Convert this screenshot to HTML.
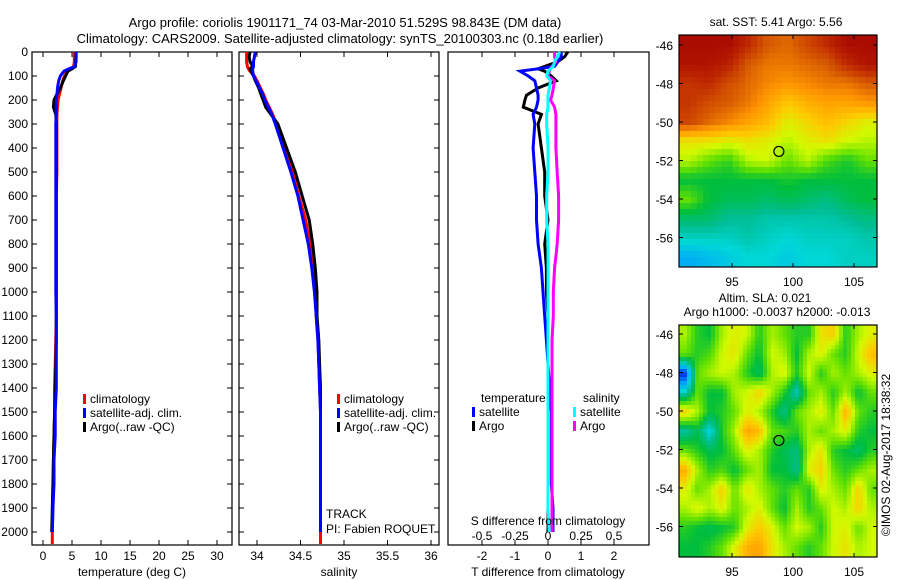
<!DOCTYPE html>
<html><head><meta charset="utf-8"><style>
body{margin:0;background:#fff;}
svg{display:block;font-family:"Liberation Sans",sans-serif;font-size:12px;}
</style></head><body>
<svg id="fig" width="900" height="580" viewBox="0 0 900 580">
<text x="345" y="27" text-anchor="middle" font-size="13">Argo profile: coriolis 1901171_74 03-Mar-2010 51.529S 98.843E (DM data)</text>
<text x="340" y="43" text-anchor="middle" font-size="13">Climatology: CARS2009. Satellite-adjusted climatology: synTS_20100303.nc (0.18d earlier)</text>
<g id="g1"></g>
<g id="g2"></g>
<g id="g3"></g>
<g id="g4"></g>
<g id="g5"></g>
<text transform="translate(890,455) rotate(-90)" text-anchor="middle" font-size="12">©IMOS 02-Aug-2017 18:38:32</text>
</svg>
<script>
const depth=[0,20,40,60,70,80,100,120,150,180,200,230,260,300,400,500,600,700,800,900,1000,1100,1200,1300,1400,1500,1600,1700,1800,1900,2000,2050];
const tClim=[5.4,5.4,5.4,5.3,4.8,4.2,3.7,3.4,3.1,2.8,2.6,2.5,2.4,2.4,2.4,2.4,2.3,2.3,2.3,2.3,2.3,2.3,2.2,2.1,2.0,2.0,1.9,1.8,1.8,1.7,1.6,1.6];
const tSat=[5.7,5.7,5.7,5.5,4.5,3.6,3.0,2.7,2.5,2.4,2.3,2.3,2.3,2.2,2.2,2.2,2.2,2.2,2.2,2.2,2.2,2.3,2.3,2.3,2.3,2.1,2.1,1.9,1.9,1.7,1.6,null];
const tArgo=[5.7,5.7,5.6,5.6,5.0,4.3,3.9,3.5,3.0,2.3,1.9,1.8,2.2,2.3,2.3,2.3,2.3,2.3,2.3,2.3,2.3,2.3,2.3,2.2,2.1,2.0,1.9,1.8,1.7,1.6,1.5,null];
const sClim=[33.88,33.88,33.88,33.89,33.9,33.92,33.97,34.0,34.04,34.08,34.1,34.14,34.18,34.22,34.31,34.41,34.48,34.56,34.61,34.64,34.67,34.68,34.7,34.71,34.72,34.73,34.73,34.73,34.73,34.73,34.73,34.73];
const sSat=[33.98,33.97,33.96,33.96,33.95,33.95,33.96,33.99,34.03,34.07,34.09,34.13,34.17,34.21,34.3,34.39,34.47,34.53,34.59,34.63,34.66,34.68,34.7,34.71,34.72,34.73,34.73,34.73,34.73,34.73,34.73,null];
const sArgo=[33.92,33.91,33.92,33.95,33.92,33.93,33.96,33.98,34.02,34.05,34.07,34.1,34.16,34.24,34.34,34.44,34.52,34.6,34.64,34.67,34.69,34.69,34.71,34.72,34.73,34.73,34.73,34.73,34.73,34.73,34.73,null];
const dTsat=[0.4,0.4,0.3,0.2,-0.3,-0.85,-0.6,-0.4,-0.35,-0.3,-0.3,-0.35,-0.45,-0.4,-0.45,-0.4,-0.35,-0.35,-0.3,-0.2,-0.15,-0.1,-0.05,0,0.05,0.1,0.1,0.1,0.1,0.15,0.15,null];
const dTargo=[0.6,0.5,0.3,-0.1,-0.3,-0.1,0.1,0.25,-0.3,-0.65,-0.7,-0.75,-0.2,-0.3,-0.2,-0.1,-0.1,0,-0.1,-0.05,-0.05,0,0,0,0,0,0,0,0,0,0,null];
const dSsat=[0.09,0.07,0.05,0.04,0.02,0.0,-0.01,0.02,0.01,0.0,0.0,0.0,-0.01,-0.01,0.0,0.0,-0.01,-0.01,0.0,0.0,0.0,0.0,0.0,0.0,0.0,0.0,0.0,0.0,0.0,0.0,0.01,null];
const dSargo=[0.05,0.05,0.06,0.03,0.02,0.01,0.0,0.05,0.04,0.03,0.02,0.05,0.06,0.06,0.06,0.07,0.08,0.08,0.07,0.05,0.04,0.04,0.03,0.03,0.03,0.03,0.03,0.03,0.03,0.03,0.03,null];
const depthTicks=[0,100,200,300,400,500,600,700,800,900,1000,1100,1200,1300,1400,1500,1600,1700,1800,1900,2000];
const tTicks=[0,5,10,15,20,25,30];
const sTicks=[34,34.5,35,35.5,36];
const dtTicks=[-2,-1,0,1,2];
const dsTicks=[-0.5,-0.25,0,0.25,0.5];
const lonTicks=[95,100,105];
const latTicks=[-46,-48,-50,-52,-54,-56];
const sstGrid=[
[.97,.97,.97,.9,.82,.8,.85,.9,.97,.97],
[.95,.95,.92,.82,.78,.78,.8,.82,.9,.95],
[.88,.9,.84,.8,.76,.74,.76,.78,.78,.82],
[.88,.84,.82,.78,.72,.66,.7,.72,.72,.74],
[.85,.8,.76,.72,.68,.6,.64,.68,.64,.6],
[.62,.62,.6,.62,.6,.56,.6,.62,.58,.56],
[.56,.5,.46,.56,.58,.5,.56,.48,.44,.5],
[.42,.42,.42,.42,.42,.44,.42,.42,.42,.42],
[.5,.42,.4,.4,.38,.4,.38,.36,.4,.42],
[.38,.38,.34,.34,.32,.32,.32,.32,.34,.36],
[.3,.3,.3,.32,.3,.28,.3,.3,.3,.32],
[.22,.24,.26,.28,.28,.26,.28,.28,.3,.3]];
const slaGrid=[
[.55,.45,.42,.55,.6,.58,.45,.55,.5,.45,.45,.62,.65,.45,.55,.6],
[.5,.45,.48,.58,.62,.5,.42,.58,.55,.42,.55,.6,.5,.45,.58,.68],
[.1,.5,.55,.58,.55,.45,.38,.55,.6,.45,.58,.45,.55,.5,.55,.6],
[.3,.5,.42,.42,.55,.58,.65,.55,.45,.3,.5,.55,.45,.55,.42,.5],
[.65,.55,.42,.45,.5,.6,.55,.45,.35,.5,.55,.6,.5,.7,.5,.45],
[.33,.4,.26,.45,.55,.72,.68,.5,.48,.45,.55,.5,.55,.6,.45,.42],
[.5,.45,.4,.42,.5,.6,.55,.45,.4,.36,.55,.62,.45,.42,.38,.45],
[.7,.55,.45,.48,.42,.5,.55,.42,.42,.35,.6,.65,.5,.45,.5,.55],
[.6,.5,.55,.65,.5,.62,.55,.5,.45,.5,.45,.6,.55,.5,.65,.5],
[.55,.6,.55,.6,.5,.55,.6,.5,.42,.55,.45,.5,.58,.55,.65,.55],
[.45,.42,.4,.42,.45,.6,.66,.6,.5,.58,.55,.45,.58,.6,.5,.58],
[.42,.42,.45,.5,.6,.7,.72,.62,.55,.5,.45,.5,.58,.62,.55,.58]];
const argoLon=98.843, argoLat=-51.529;

const NS='http://www.w3.org/2000/svg';
function mk(p,tag,at){const e=document.createElementNS(NS,tag);for(const k in at)e.setAttribute(k,at[k]);p.appendChild(e);return e;}
function lin(d0,d1,r0,r1){return v=>r0+(v-d0)*(r1-r0)/(d1-d0);}
const Y=lin(0,2000,52,532);
const Y0=52,Y1=545;

function frame(g,x0,x1,name){
  const r=mk(g,'rect',{x:x0,y:Y0,width:x1-x0,height:Y1-Y0,fill:'none',stroke:'#000','stroke-width':1.2});
  
  
  depthTicks.forEach(d=>{const y=Y(d);
    mk(g,'line',{x1:x0,x2:x0+5,y1:y,y2:y,stroke:'#000'});
    mk(g,'line',{x1:x1,x2:x1-5,y1:y,y2:y,stroke:'#000'});});
}
function xticks(g,ticks,X,labY,labelFmt,name){
  ticks.forEach(t=>{const x=X(t);
    mk(g,'line',{x1:x,x2:x,y1:Y0,y2:Y0+5,stroke:'#000'});
    mk(g,'line',{x1:x,x2:x,y1:Y1,y2:Y1-5,stroke:'#000'});
    if(labY){const tx=mk(g,'text',{x:x,y:labY,'text-anchor':'middle'});tx.textContent=labelFmt(t);
      
      }
  });
}
function line(g,xs,X,col,name){
  let d='';xs.forEach((v,i)=>{if(v===null)return;d+=(d?'L':'M')+X(v).toFixed(1)+','+Y(depth[i]).toFixed(1);});
  const p=mk(g,'path',{d:d,fill:'none',stroke:col,'stroke-width':3,'stroke-linejoin':'miter'});
  
  
}
function legend(g,x,y,col,label,name){
  mk(g,'rect',{x:x,y:y-9,width:3,height:10,fill:col});
  const t=mk(g,'text',{x:x+7,y:y});t.textContent=label;
  
  
}
// panel 1
const g1=document.getElementById('g1');
const XT=lin(0,30,43,217);
frame(g1,32,232,'temperature');
depthTicks.forEach(d=>{const t=mk(g1,'text',{x:28,y:Y(d)+4,'text-anchor':'end'});t.textContent=d;
  
  });
xticks(g1,tTicks,XT,560,t=>t,'temperature');
line(g1,tClim,XT,'#f00','temp-climatology-line');
line(g1,tArgo,XT,'#000','temp-argo-line');
line(g1,tSat,XT,'#00f','temp-satellite-line');
{const t=mk(g1,'text',{x:132,y:576,'text-anchor':'middle'});t.textContent='temperature (deg C)';
}
legend(g1,83,403,'#f00','climatology','legend-climatology');
legend(g1,83,417,'#00f','satellite-adj. clim.','legend-satellite');
legend(g1,83,431,'#000','Argo(..raw -QC)','legend-argo');
// panel 2
const g2=document.getElementById('g2');
const XS=lin(34,36,257,431);
frame(g2,239,439,'salinity');
xticks(g2,sTicks,XS,560,t=>t,'salinity');
line(g2,sClim,XS,'#f00','sal-climatology-line');
line(g2,sArgo,XS,'#000','sal-argo-line');
line(g2,sSat,XS,'#00f','sal-satellite-line');
{const t=mk(g2,'text',{x:339,y:576,'text-anchor':'middle'});t.textContent='salinity';
}
legend(g2,337,403,'#f00','climatology','legend-climatology');
legend(g2,337,417,'#00f','satellite-adj. clim.','legend-satellite');
legend(g2,337,431,'#000','Argo(..raw -QC)','legend-argo');
{const t=mk(g2,'text',{x:326,y:518});t.textContent='TRACK';

const t2=mk(g2,'text',{x:326,y:533});t2.textContent='PI: Fabien ROQUET';
}
// panel 3
const g3=document.getElementById('g3');
const XD=lin(0,2,548,614);
const XDS=lin(0,0.5,548,614);
const r3=mk(g3,'rect',{x:448,y:Y0,width:201,height:Y1-Y0,fill:'none',stroke:'#000','stroke-width':1.2});


xticks(g3,dtTicks,XD,560,t=>t,'t-difference');
dsTicks.forEach(t=>{const tx=mk(g3,'text',{x:XDS(t),y:540,'text-anchor':'middle'});tx.textContent=t;
  
  });
line(g3,dTargo,XD,'#000','t-diff-argo-line');
line(g3,dTsat,XD,'#00f','t-diff-satellite-line');
line(g3,dSargo,XDS,'#f0f','s-diff-argo-line');
line(g3,dSsat,XDS,'#0ff','s-diff-satellite-line');
{const t=mk(g3,'text',{x:548,y:525,'text-anchor':'middle'});t.textContent='S difference from climatology';

const t2=mk(g3,'text',{x:548,y:576,'text-anchor':'middle'});t2.textContent='T difference from climatology';

const h1=mk(g3,'text',{x:481,y:402});h1.textContent='temperature';

const h2=mk(g3,'text',{x:583,y:402});h2.textContent='salinity';
}
legend(g3,472,416,'#00f','satellite','legend-t-satellite');
legend(g3,472,430,'#000','Argo','legend-t-argo');
legend(g3,573,416,'#0ff','satellite','legend-s-satellite');
legend(g3,573,430,'#f0f','Argo','legend-s-argo');

// colormap
const stops=[[0,0,0,140],[.1,0,40,230],[.2,0,160,255],[.28,0,215,215],[.34,0,190,150],[.42,0,190,60],[.5,100,225,0],[.58,210,250,0],[.66,255,200,0],[.74,255,150,0],[.82,215,90,0],[.9,190,40,0],[1,160,0,0]];
function cmap(v){for(let i=1;i<stops.length;i++){if(v<=stops[i][0]){const a=stops[i-1],b=stops[i],f=(v-a[0])/(b[0]-a[0]);
  return 'rgb('+[1,2,3].map(k=>Math.round(a[k]+(b[k]-a[k])*f)).join(',')+')';}}return 'rgb(160,0,0)';}
function sample(grid,fx,fy){
  const rows=grid.length,cols=grid[0].length;
  let cx=fx*cols-0.5, cy=fy*rows-0.5;
  cx=Math.max(0,Math.min(cols-1,cx)); cy=Math.max(0,Math.min(rows-1,cy));
  const c0=Math.floor(cx),r0=Math.floor(cy),c1=Math.min(cols-1,c0+1),r1=Math.min(rows-1,r0+1);
  const u=cx-c0,w=cy-r0;
  return grid[r0][c0]*(1-u)*(1-w)+grid[r0][c1]*u*(1-w)+grid[r1][c0]*(1-u)*w+grid[r1][c1]*u*w;
}

function map(g,top,grid,step,lat46,title,name){
  const x0=679,x1=877,y1=top+232,W=x1-x0,H=232;
  const LX=lin(95,100,732,793);
  const LY=lin(-46,-56,lat46,lat46+19.25*10);
  const cg=mk(g,'g',{});
  for(let y=0;y<H;y+=step){for(let x=0;x<W;x+=step){
    const v=sample(grid,(x+step/2)/W,(y+step/2)/H);
    const cell=mk(cg,'rect',{x:x0+x,y:top+y,width:Math.min(step,W-x)+0.4,height:Math.min(step,H-y)+0.4,fill:cmap(v)});
    
    
  }}
  const fr=mk(g,'rect',{x:x0,y:top,width:W,height:H,fill:'none',stroke:'#000','stroke-width':1.2});
  
  
  lonTicks.forEach(t=>{const x=LX(t);
    mk(g,'line',{x1:x,x2:x,y1:top,y2:top+4,stroke:'#000'});
    mk(g,'line',{x1:x,x2:x,y1:y1,y2:y1-4,stroke:'#000'});
    const tx=mk(g,'text',{x:x,y:y1+19,'text-anchor':'middle'});tx.textContent=t;
    
    });
  latTicks.forEach(t=>{const y=LY(t);
    mk(g,'line',{x1:x0,x2:x0+4,y1:y,y2:y,stroke:'#000'});
    mk(g,'line',{x1:x1,x2:x1-4,y1:y,y2:y,stroke:'#000'});
    const tx=mk(g,'text',{x:673,y:y+5,'text-anchor':'end'});tx.textContent=t;
    
    });
  const c=mk(g,'circle',{cx:LX(argoLon),cy:LY(argoLat),r:5,fill:'none',stroke:'#000','stroke-width':1.2});
  
  
  title.forEach((s,i)=>{const t=mk(g,'text',{x:s[1],y:s[2],'text-anchor':'middle'});t.textContent=s[0];
    
    });
}
map(document.getElementById('g4'),35,sstGrid,6,45,[['sat. SST: 5.41  Argo: 5.56',776,26]],'sst-map');
map(document.getElementById('g5'),325,slaGrid,4,334,[['Altim. SLA: 0.021',765,302],['Argo h1000: -0.0037 h2000: -0.013',777,316]],'sla-map');
</script>
</body></html>
